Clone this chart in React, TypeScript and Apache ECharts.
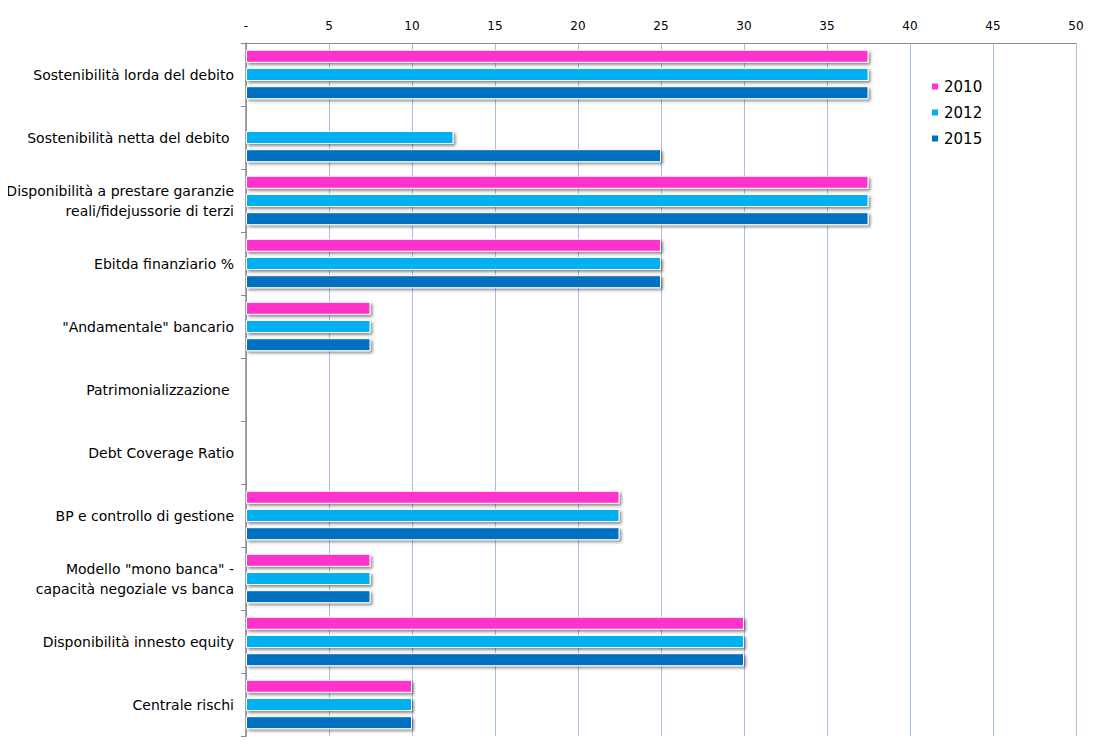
import React, { useEffect, useRef } from "react";
import * as echarts from "echarts";

const categories = [
  "Sostenibilità lorda del debito",
  "Sostenibilità netta del debito ",
  "Disponibilità a prestare garanzie\nreali/fidejussorie di terzi",
  "Ebitda finanziario %",
  "\"Andamentale\" bancario",
  "Patrimonializzazione ",
  "Debt Coverage Ratio",
  "BP e controllo di gestione",
  "Modello \"mono banca\" -\ncapacità negoziale vs banca",
  "Disponibilità innesto equity",
  "Centrale rischi",
];
const s2010 = [37.5, 0, 37.5, 25, 7.5, 0, 0, 22.5, 7.5, 30, 10];
const s2012 = [37.5, 12.5, 37.5, 25, 7.5, 0, 0, 22.5, 7.5, 30, 10];
const s2015 = [37.5, 25, 37.5, 25, 7.5, 0, 0, 22.5, 7.5, 30, 10];
const seriesNames = ["2010", "2012", "2015"];
const colors = ["#FF33CC", "#00B0F0", "#0070C0"];

export default function App() {
  const ref = useRef<HTMLDivElement>(null);
  useEffect(() => {
    if (!ref.current) return;
    const chart = echarts.init(ref.current, null, { renderer: "svg" });
    const font = "'DejaVu Sans', sans-serif";
    const data = [s2010, s2012, s2015];
    chart.setOption({
      animation: false,
      textStyle: { fontFamily: font },
      grid: { left: 246, right: 30, top: 43, bottom: 20, containLabel: false },
      legend: {
        orient: "vertical",
        left: 925,
        top: 74,
        itemWidth: 8,
        itemHeight: 8,
        itemGap: 11,
        icon: "rect",
        data: seriesNames,
        textStyle: { fontSize: 15, color: "#000", fontFamily: font },
      },
      xAxis: {
        type: "value",
        position: "top",
        min: 0,
        max: 50,
        interval: 5,
        axisLine: { show: true, lineStyle: { color: "#888", width: 1 } },
        axisTick: { show: false },
        axisLabel: {
          margin: 11,
          fontSize: 12,
          color: "#000",
          formatter: (v: number) => (v === 0 ? "-" : String(v)),
        },
        splitLine: { show: true, lineStyle: { color: "#A9BFE3", width: 1 } },
      },
      yAxis: {
        type: "category",
        inverse: true,
        data: categories,
        axisLine: { show: true, lineStyle: { color: "#888", width: 1.5 } },
        axisTick: { show: true, length: 5, lineStyle: { color: "#888" } },
        axisLabel: {
          margin: 12,
          fontSize: 14,
          color: "#000",
          lineHeight: 20,
          align: "right",
        },
      },
      series: seriesNames.map((name, i) => ({
        name,
        type: "bar",
        data: data[i],
        barWidth: 13,
        barGap: "40%",
        itemStyle: {
          color: colors[i],
          borderColor: "#fff",
          borderWidth: 1,
          shadowColor: "rgba(0,0,0,0.45)",
          shadowBlur: 3,
          shadowOffsetX: 2,
          shadowOffsetY: 2,
        },
      })),
    });
    return () => chart.dispose();
  }, []);
  return <div ref={ref} style={{ width: 1106, height: 756, margin: -8 }} />;
}
